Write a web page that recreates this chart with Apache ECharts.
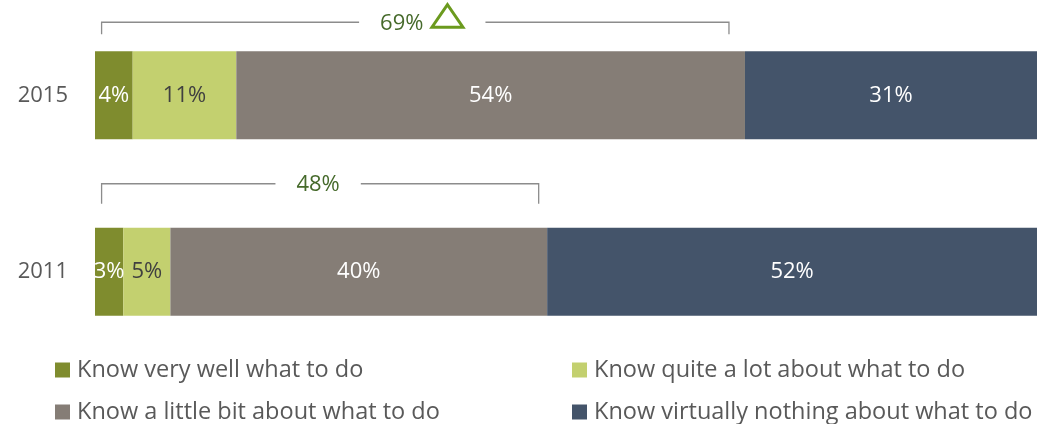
<!DOCTYPE html>
<html><head><meta charset="utf-8">
<script src="https://cdn.jsdelivr.net/npm/echarts@6/dist/echarts.min.js"></script>
<style>html,body{margin:0;padding:0;background:#fff}#c{width:1045px;height:424px}</style>
</head><body><div id="c"></div>
<script>
// ---- data ----
const categories = ['2015', '2011'];
const seriesNames = [
  'Know very well what to do',
  'Know quite a lot about what to do',
  'Know a little bit about what to do',
  'Know virtually nothing about what to do'
];
const veryWell = [4, 3];
const quiteALot = [11, 5];
const littleBit = [54, 40];
const virtuallyNothing = [31, 52];
const bracketStart = [0.7, 0.7];
const bracketEnd = [67.3, 47.1];
const bracketLabels = ['69%', '48%'];
const bracketTriangle = [true, false];

// ---- styles ----
const FONT = '"Open Sans", "Noto Sans", sans-serif';
const colors = ['#7f8c2e', '#c3d06f', '#857d76', '#44546a'];
const labelColors = ['#ffffff', '#404040', '#ffffff', '#ffffff'];
const bracketGeom = [{lift: 29, tick: 12}, {lift: 44, tick: 20}];
const FS = 22;
const LEG_FS = 23.5;

const ctx = document.createElement('canvas').getContext('2d');
function textW(t, size) { ctx.font = size + 'px ' + FONT; return ctx.measureText(t).width; }

const chart = echarts.init(document.getElementById('c'), null, {renderer: 'canvas'});
const allVals = [veryWell, quiteALot, littleBit, virtuallyNothing];
const BAR_W = 88;

const barSeries = seriesNames.map((n, i) => ({
  name: n, type: 'bar', stack: 'total', data: allVals[i], barWidth: BAR_W,
  itemStyle: {color: colors[i]},
  label: {show: true, position: 'inside', formatter: '{c}%', color: labelColors[i],
          fontFamily: FONT, fontSize: FS},
  silent: true
}));

const bracketSeries = {
  type: 'custom', silent: true, z: 5,
  data: categories.map((c, i) => [bracketStart[i], bracketEnd[i], i]),
  encode: {x: [0, 1], y: 2},
  renderItem: function (params, api) {
    const i = api.value(2);
    const p0 = api.coord([api.value(0), i]);
    const p1 = api.coord([api.value(1), i]);
    const g = bracketGeom[i];
    const barTop = p0[1] - BAR_W / 2;
    const yTop = barTop - g.lift;
    const yTick = yTop + g.tick;
    const label = bracketLabels[i];
    const tri = bracketTriangle[i];
    const tw = textW(label, FS);
    const triW = 34, triH = 24, triGap = 7, pad = 21;
    const groupW = tw + (tri ? triGap + triW : 0);
    const cx = (p0[0] + p1[0]) / 2 + (tri ? 7 : -2);
    const gx0 = cx - groupW / 2;
    const lineStyle = {stroke: '#8c8c8c', lineWidth: 1.3, fill: null};
    const children = [
      {type: 'polyline', shape: {points: [[p0[0], yTick], [p0[0], yTop], [gx0 - pad, yTop]]}, style: lineStyle},
      {type: 'polyline', shape: {points: [[gx0 + groupW + pad, yTop], [p1[0], yTop], [p1[0], yTick]]}, style: lineStyle},
      {type: 'text', style: {text: label, x: gx0, y: yTop + 1, verticalAlign: 'middle', align: 'left',
        fill: '#466a2b', font: FS + 'px ' + FONT}}
    ];
    if (tri) {
      const tx = gx0 + tw + triGap;
      const tb = yTop + 5;
      children.push({type: 'polygon', shape: {points: [[tx + 1.5, tb], [tx + triW - 1.5, tb], [tx + triW / 2, tb - triH + 1.5]]},
        style: {stroke: '#6b9a1e', lineWidth: 3, fill: null, lineJoin: 'miter'}});
    }
    return {type: 'group', children: children};
  }
};

const legendPos = [[55, 358], [572, 358], [55, 400], [572, 400]];
const legends = seriesNames.map((n, i) => ({
  data: [n], left: legendPos[i][0], top: legendPos[i][1], orient: 'horizontal',
  icon: 'rect', itemWidth: 15, itemHeight: 15, selectedMode: false, padding: 0,
  textStyle: {fontFamily: FONT, fontSize: LEG_FS, color: '#595959', padding: [0, 0, 0, 2]}
}));

chart.setOption({
  animation: false,
  backgroundColor: '#ffffff',
  grid: {left: 95, right: 8, top: 7, height: 353, containLabel: false},
  xAxis: {type: 'value', min: 0, max: 100, show: false},
  yAxis: {type: 'category', data: categories, inverse: true,
    axisLine: {show: false}, axisTick: {show: false},
    axisLabel: {fontFamily: FONT, fontSize: FS, color: '#595959', margin: 27}},
  legend: legends,
  series: barSeries.concat([bracketSeries])
});
</script></body></html>
